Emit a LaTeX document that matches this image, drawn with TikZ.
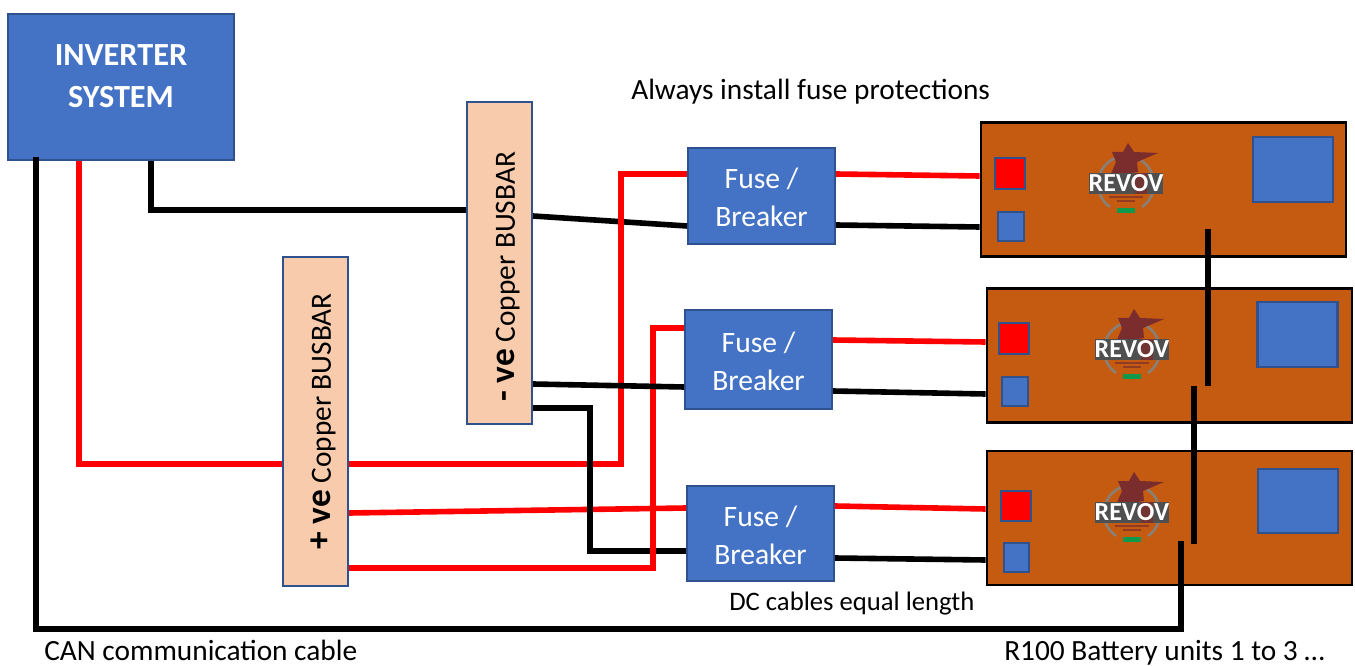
\documentclass[tikz,border=0pt]{standalone}
\usepackage{fontspec}
\setmainfont{Carlito}
\definecolor{boxblue}{HTML}{4472C4}
\definecolor{boxline}{HTML}{2F528F}
\definecolor{busfill}{HTML}{F8CBAD}
\definecolor{battfill}{HTML}{C55A11}
\definecolor{starred}{HTML}{7B2C2C}
\definecolor{bandgray}{HTML}{4F4F4F}
\definecolor{ringgray}{HTML}{8A7F75}
\definecolor{pillgreen}{HTML}{0E9A4A}
\newcommand{\fusetext}{\rule{0pt}{18pt}Fuse /\\Breaker}
\newcommand{\bustext}[2]{\raisebox{-11.6pt}{{\bfseries\fontsize{26.5}{28}\selectfont #1}
    Copper BUSBAR\hspace*{#2}}}
\tikzset{
    bluebox/.style={draw=boxline,fill=boxblue,line width=1.6pt,text=white,
        inner sep=0pt,align=center},
    fusebox/.style={bluebox,minimum width=110pt,minimum height=71.5pt,
        font=\fontsize{22.2}{28.5}\selectfont},
    busbar/.style={draw=boxline,fill=busfill,line width=1.3pt,rotate=90,
        inner sep=0pt,minimum height=49pt,text height=0pt,text depth=0pt,
        font=\fontsize{22}{24}\selectfont},
    battery/.style={draw=black,fill=battfill,line width=1.9pt,inner sep=0pt,
        minimum width=274pt,minimum height=100.5pt},
    portred/.style={draw=boxline,fill=red,line width=1.6pt,inner sep=0pt,
        minimum width=22pt,minimum height=23pt},
    portblue/.style={draw=boxline,fill=boxblue,line width=1.6pt,inner sep=0pt,
        minimum width=19pt,minimum height=21.5pt},
    display/.style={draw=boxline,fill=boxblue,line width=1.6pt,inner sep=0pt,
        minimum width=60pt,minimum height=48.5pt},
    redcable/.style={draw=red,line width=4.2pt},
    blackcable/.style={draw=black,line width=4.2pt},
    note/.style={inner sep=0pt,anchor=base west,font=\fontsize{22}{24}\selectfont},
    revovlogo/.pic={
        \draw[ringgray,line width=2pt] (-28,0) arc[start angle=180,end angle=125,radius=28];
        \draw[ringgray,line width=2pt] (28,0) arc[start angle=0,end angle=55,radius=28];
        \draw[ringgray,line width=2pt] (-28,0) arc[start angle=180,end angle=280,radius=28];
        \draw[ringgray,line width=2pt] (28,0) arc[start angle=0,end angle=-80,radius=28];
        \fill[starred] (2,-41) -- (8,-32) -- (32,-31) -- (11,-22) -- (12,-12)
            -- (-16,-8) -- (-10,-22) -- (-14,-32) -- (-3,-32) -- cycle;
        \fill[bandgray] (-37,-11) rectangle (37,10);
        \fill[starred!80!bandgray] (9,-11) rectangle (21,10);
        \node[text=white,inner sep=0pt,font=\bfseries\fontsize{19.5}{20}\selectfont]
            (-word) at (0,-.5) {REVOV};
        \fill[starred!70!battfill] (-17,12) rectangle (17,14);
        \fill[starred!70!battfill] (-9,16) rectangle (9,18);
        \fill[pillgreen] (-9,24) rectangle (9,29);
    },
}
\begin{document}
\begin{tikzpicture}[x=.75pt,y=-.75pt]
    \useasboundingbox (0,0) rectangle (1355,666);

    % Inverter and busbars
    \node[bluebox,minimum width=169pt,minimum height=109pt,
        font=\fontsize{24.2}{31.5}\selectfont\bfseries]
        (inverter) at (121,87) {INVERTER\\SYSTEM\\[-15.5pt]};
    \node[busbar,minimum width=241.5pt] (busneg) at (499.5,263)
        {\bustext{- ve}{21pt}};
    \node[busbar,minimum width=247pt] (buspos) at (315.5,421.5)
        {\bustext{+ ve}{0pt}};

    % Fuses
    \node[fusebox] (fuseone) at (761.5,196) {\fusetext};
    \node[fusebox,minimum height=74.5pt] (fusetwo) at (758.5,359.5) {\fusetext};
    \node[fusebox] (fusethree) at (760.5,533.5) {\fusetext};

    % Batteries
    \node[battery] (battone) at (1163.5,189.5) {};
    \node[battery] (batttwo) at (1169.5,355.5) {};
    \node[battery] (battthree) at (1169.5,518) {};

    \node[portred] (redone) at (1010,173.5) {};
    \node[portblue] (blueone) at (1011,226.5) {};
    \node[display] (dispone) at (1293,169.5) {};
    \pic (logoone) at (1126,184) {revovlogo};

    \node[portred] (redtwo) at (1014,338.5) {};
    \node[portblue] (bluetwo) at (1015,391.5) {};
    \node[display] (disptwo) at (1297.5,334.5) {};
    \pic (logotwo) at (1132,350) {revovlogo};

    \node[portred] (redthree) at (1016,506) {};
    \node[portblue] (bluethree) at (1016.5,557.5) {};
    \node[display] (dispthree) at (1298,501) {};
    \pic (logothree) at (1132,513) {revovlogo};

    % Inverter cables
    \draw[blackcable] (inverter.south -| 151,0) -- (151,210) -- (busneg.north |- 0,210);
    \draw[redcable] (inverter.south -| 79,0) -- (79,464) -- (buspos.north |- 0,464);

    % Busbars to fuses
    \draw[blackcable] (busneg.south |- 0,216) -- (fuseone.west |- 0,226);
    \draw[redcable] (buspos.south |- 0,464) -- (621,464) -- (621,174)
        -- (fuseone.west |- 0,174);
    \draw[redcable] (buspos.south |- 0,513) -- (fusethree.west |- 0,508);
    \draw[blackcable] (busneg.south |- 0,408) -- (590,408) -- (590,551)
        -- (fusethree.west |- 0,551);
    \draw[redcable] (buspos.south |- 0,568) -- (653,568) -- (653,328)
        -- (fusetwo.west |- 0,328);
    \draw[blackcable] (busneg.south |- 0,384) -- (fusetwo.west |- 0,387);

    % Fuses to batteries
    \draw[redcable] (fuseone.east |- 0,174) -- (battone.west |- 0,176);
    \draw[blackcable] (fuseone.east |- 0,225) -- (battone.west |- 0,227);
    \draw[redcable] (fusetwo.east |- 0,340) -- (batttwo.west |- 0,342);
    \draw[blackcable] (fusetwo.east |- 0,391) -- (batttwo.west |- 0,394);
    \draw[redcable] (fusethree.east |- 0,506) -- (battthree.west |- 0,509);
    \draw[blackcable] (fusethree.east |- 0,558) -- (battthree.west |- 0,560);

    % CAN links
    \coordinate (linkone) at (1208,229);
    \coordinate (linktwo) at (1194,386);
    \coordinate (linkthree) at (1181,541);
    \draw[blackcable] (linkone) -- (linkone |- linktwo);
    \draw[blackcable] (linktwo) -- (1194,544);
    \draw[blackcable] ([yshift=3pt]inverter.south -| 36,0) -- (36,629) -- (1181,629)
        -- (linkthree);

    % Notes
    \node[note] (fusenote) at (631,100) {Always install fuse protections};
    \node[note,font=\fontsize{20}{22}\selectfont] (lengthnote) at (729,610)
        {DC cables equal length};
    \node[note] (cannote) at (44,660.5) {CAN communication cable};
    \node[note] (unitnote) at (1004,660.5) {R100 Battery units 1 to 3 …};
\end{tikzpicture}
\end{document}
